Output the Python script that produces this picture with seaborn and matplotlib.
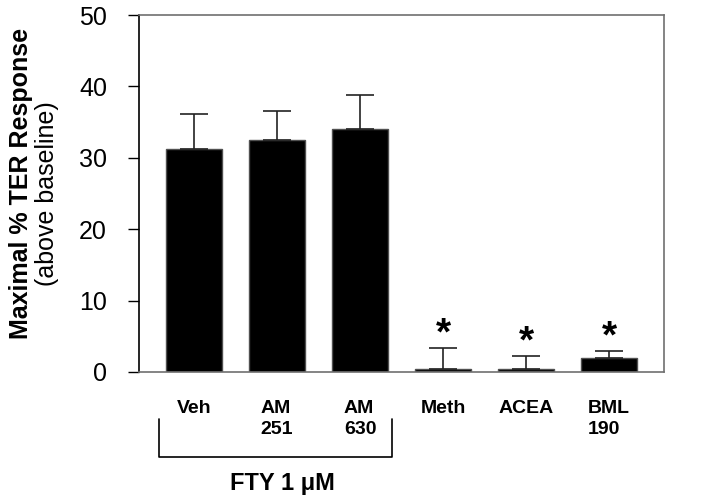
import matplotlib
matplotlib.use("Agg")
import matplotlib.pyplot as plt
import matplotlib.transforms as mtransforms
import seaborn as sns
import pandas as pd

categories = ["Veh", "AM\n251", "AM\n630", "Meth", "ACEA", "BML\n190"]
values = [31.3, 32.5, 34.0, 0.4, 0.4, 2.0]
errors = [4.9, 4.0, 4.8, 2.9, 1.9, 0.9]
significant = [False, False, False, True, True, True]
group_label = "FTY 1 \u03bcM"
y_ticks = [0, 10, 20, 30, 40, 50]

sns.set_theme(style="white")
plt.rcParams["font.family"] = ["Liberation Sans", "DejaVu Sans"]
plt.rcParams["text.color"] = "black"
plt.rcParams["xtick.color"] = "black"
plt.rcParams["ytick.color"] = "black"

df = pd.DataFrame({"cat": categories, "val": values})

fig = plt.figure(figsize=(7.02, 5.01), dpi=100)
ax = fig.add_axes([0.198, 0.2575, 0.748, 0.7125])

sns.barplot(data=df, x="cat", y="val", color="black", width=0.675,
            edgecolor="#505050", linewidth=1, ax=ax, saturation=1)

xs = list(range(len(categories)))
ax.errorbar(xs, values, yerr=[[0] * len(errors), errors], fmt="none",
            ecolor="#222222", elinewidth=1.2, capsize=10, capthick=1.2, zorder=3)

for x, v, e, s in zip(xs, values, errors, significant):
    if s:
        ax.text(x, v + e + 1.9, "*", ha="center", va="center",
                fontsize=28, fontweight="bold", color="black")

ax.set_xlim(-0.663, 5.663)
ax.set_ylim(0, 50)
ax.set_yticks(y_ticks)
ax.set_yticklabels([str(t) for t in y_ticks], fontsize=18, color="black")
ax.tick_params(axis="y", direction="out", length=8, width=1, color="black",
               pad=15, left=True)
ax.tick_params(axis="x", length=0, pad=20)
ax.set_xticks(xs)
ax.set_xticklabels(categories, fontsize=14, fontweight="bold", color="black",
                   multialignment="left", linespacing=1.35)
ax.set_xlabel("")
ax.set_ylabel("")

for side in ["top", "right", "bottom"]:
    ax.spines[side].set_color("#707070")
    ax.spines[side].set_linewidth(1.2)
ax.spines["left"].set_color("black")
ax.spines["left"].set_linewidth(1.2)

fig.text(0.030, 0.634, "Maximal % TER Response", rotation=90, ha="center",
         va="center", fontsize=18, fontweight="bold", color="black")
fig.text(0.067, 0.614, "(above baseline)", rotation=90, ha="center",
         va="center", fontsize=18, color="black")

trans = mtransforms.blended_transform_factory(ax.transData, ax.transAxes)
ax.plot([-0.42, -0.42, 2.386, 2.386], [-0.132, -0.238, -0.238, -0.132],
        color="black", lw=1.2, transform=trans, clip_on=False)
ax.text(1.07, -0.311, group_label, transform=trans, ha="center", va="center",
        fontsize=17, fontweight="bold", color="black")

fig.savefig("out.png", dpi=100)
